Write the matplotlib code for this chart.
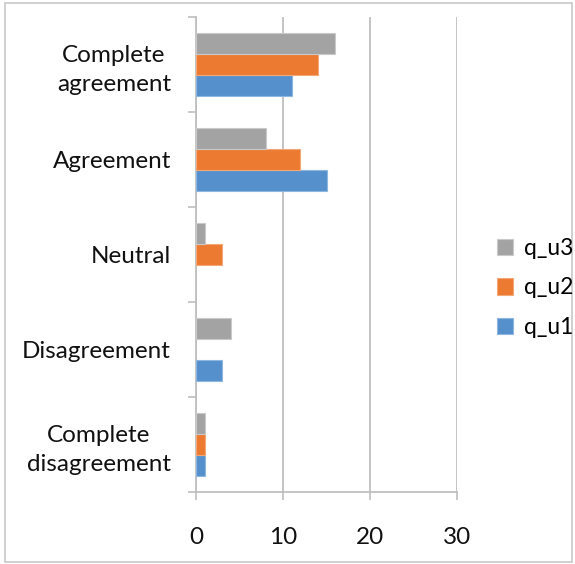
import matplotlib.pyplot as plt
import numpy as np
from matplotlib.patches import Rectangle

plt.rcParams['font.family'] = ['Lato', 'DejaVu Sans']

categories = ['Complete\ndisagreement', 'Disagreement', 'Neutral', 'Agreement', 'Complete\nagreement']
q_u1 = [1, 3, 0, 15, 11]
q_u2 = [1, 0, 3, 12, 14]
q_u3 = [1, 4, 1, 8, 16]

series = [('q_u1', q_u1, '#5590CC', '#8DB6E0'),
          ('q_u2', q_u2, '#EC7A30', '#F4A877'),
          ('q_u3', q_u3, '#A3A3A3', '#C9C9C9')]

fig = plt.figure(figsize=(5.75, 5.64), dpi=100)
ax = fig.add_axes([196/575, 1 - 492/564, 261/575, 475/564])

y = np.arange(len(categories))
h = 0.221
for i, (name, vals, col, edge) in enumerate(series):
    edges = [edge if v > 0 else 'none' for v in vals]
    ax.barh(y + (i - 1) * h, vals, height=h, color=col, edgecolor=edges,
            linewidth=0.8, label=name, zorder=3)

ax.set_xlim(0, 30)
ax.set_ylim(-0.5, len(categories) - 0.5)
ax.set_xticks([0, 10, 20, 30])
ax.set_yticks(y)
ax.set_yticklabels(categories, multialignment='center', linespacing=1.45)
ax.set_yticks(np.arange(-0.5, len(categories)), minor=True)
ax.tick_params(axis='y', which='major', length=0, pad=18, labelsize=17.5, labelcolor='#111111')
ax.tick_params(axis='y', which='minor', length=6, width=1.2, color='#BFBFBF')
ax.tick_params(axis='x', length=6, width=1.2, color='#BFBFBF', pad=19, labelsize=17.5, labelcolor='#111111')

ax.grid(axis='x', color='#BFBFBF', linewidth=1.3, zorder=0)
for side in ['top', 'right']:
    ax.spines[side].set_visible(False)
for side in ['left', 'bottom']:
    ax.spines[side].set_color('#BFBFBF')
    ax.spines[side].set_linewidth(1.3)

handles, labels = ax.get_legend_handles_labels()
fig.legend(handles[::-1], labels[::-1], loc='center left', bbox_to_anchor=(488/575, 1 - 288/564),
           frameon=False, fontsize=16.5, handlelength=0.7, handleheight=0.7,
           handletextpad=0.45, labelspacing=0.8, borderaxespad=0)

fig.patches.append(Rectangle((5/575, 2/564), 567/575, 559/564, transform=fig.transFigure,
                             fill=False, edgecolor='#C8C8C8', linewidth=1.2))

fig.savefig('out.png', dpi=100)
